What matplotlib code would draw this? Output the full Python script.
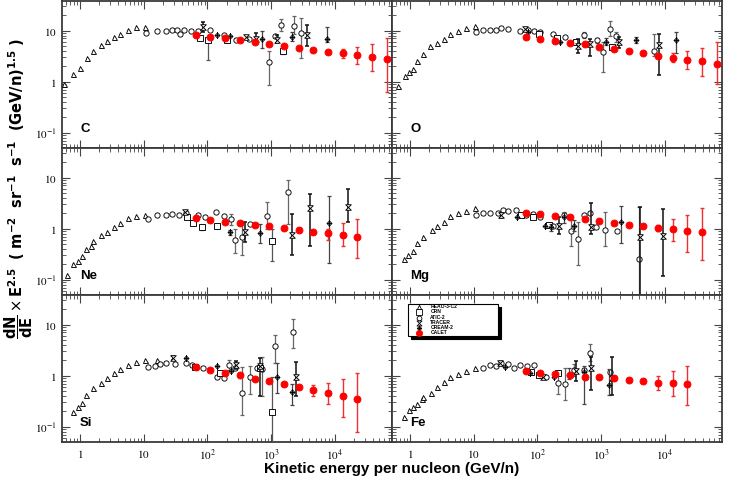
import numpy as np
import matplotlib
matplotlib.use('Agg')
import matplotlib.pyplot as plt
from matplotlib.path import Path
from matplotlib.patches import Rectangle
from matplotlib.ticker import FixedLocator, FuncFormatter, LogLocator, NullFormatter

plt.rcParams['mathtext.fontset'] = 'stix'
plt.rcParams['font.family'] = ['Liberation Sans', 'DejaVu Sans']

# ---------------- data ----------------
CALET_E = [65, 110, 188, 322, 550, 920, 1570, 2690, 4570, 7700, 13300, 22400, 37800, 65000]

# Carbon
C_HEAO_E = [0.56, 0.78, 1.0, 1.27, 1.6, 2.12, 2.67, 3.4, 4.28, 5.7, 7.6, 10.6]
C_HEAO_F = [0.89, 1.40, 1.84, 2.9, 3.98, 5.2, 6.2, 7.4, 8.6, 10.3, 12.0, 12.0]
C_CRN_E = [75, 102, 202, 1520]
C_CRN_F = [7.1, 6.65, 6.4, 3.9]
C_CRN_LO = [7.1, 2.7, 6.4, 3.5]
C_CRN_HI = [7.1, 7.5, 6.4, 4.5]
C_ATIC_E = [10.7, 15.9, 22, 28, 33, 37, 43, 55, 70, 111, 179, 281, 445, 920, 1132, 1410, 2285, 2910]
C_ATIC_F = [9.0, 10, 10, 10.2, 10.2, 8.6, 10.2, 10, 10, 10.4, 8.1, 6.65, 6.85, 2.45, 8.0, 13.1, 12.5, 9.0]
C_ATIC_LO = [9.0, 10, 10, 10.2, 10.2, 8.6, 10.2, 10, 10, 10.4, 8.1, 6.65, 6.85, 0.86, 8.0, 10, 8.6, 2.85]
C_ATIC_HI = [9.0, 10, 10, 10.2, 10.2, 8.6, 10.2, 10, 10, 10.4, 8.1, 6.65, 6.85, 3.9, 8.0, 17, 18.9, 17.4]
C_TRACER_E = [86, 398, 588, 1217, 3720]
C_TRACER_F = [11.6, 7.4, 6.85, 6.65, 8.2]
C_TRACER_LO = [9.5, 7.4, 5.47, 5.6, 5.07]
C_TRACER_HI = [14.5, 7.4, 8.85, 8.2, 12.9]
C_CREAM_E = [141, 229, 723, 2153, 7420]
C_CREAM_F = [8.2, 8.0, 6.85, 7.4, 6.96]
C_CREAM_LO = [8.2, 8.0, 4.49, 6.36, 5.9]
C_CREAM_HI = [8.2, 8.0, 9.7, 9.27, 11.6]
C_CALET_F = [8.3, 7.6, 7.2, 6.6, 6.0, 5.5, 5.07, 4.6, 4.2, 3.86, 3.57, 3.33, 3.07, 2.81]
C_CALET_LO = [8.0, 7.3, 6.9, 6.3, 5.7, 5.2, 4.75, 4.3, 3.9, 3.6, 2.9, 2.2, 1.63, 0.63]
C_CALET_HI = [8.6, 7.9, 7.5, 6.9, 6.3, 5.8, 5.4, 4.9, 4.5, 4.1, 4.37, 4.7, 5.5, 7.2]

# Oxygen
O_HEAO_E = [0.64, 0.84, 0.96, 1.13, 1.27, 1.61, 2.08, 2.67, 3.36, 4.27, 5.6, 7.5, 10.5]
O_HEAO_F = [0.83, 1.3, 1.56, 1.76, 2.56, 3.47, 4.9, 5.6, 6.9, 8.6, 9.7, 11.3, 12.2]
O_CRN_E = [107, 203, 400, 1500]
O_CRN_F = [8.6, 7.2, 5.9, 4.7]
O_CRN_LO = [8.6, 7.2, 5.9, 4.2]
O_CRN_HI = [8.6, 7.2, 5.9, 5.3]
O_ATIC_E = [11, 14, 17.8, 22.6, 27, 34, 54, 71, 88, 109, 174, 271, 542, 855, 1087, 1365, 1700, 6700]
O_ATIC_F = [9.3, 10.3, 10.3, 10.3, 11.3, 10.8, 10, 10.3, 10, 9.3, 8.6, 7.6, 8.2, 6.4, 3.86, 10.8, 8.0, 4.04]
O_ATIC_LO = [9.3, 10.3, 10.3, 10.3, 11.3, 10.8, 10, 10.3, 10, 9.3, 8.6, 7.6, 7.0, 5.6, 1.56, 8.0, 6.0, 3.2]
O_ATIC_HI = [9.3, 10.3, 10.3, 10.3, 11.3, 10.8, 10, 10.3, 10, 9.3, 8.6, 7.6, 9.5, 7.2, 6.1, 15.2, 9.5, 8.6]
O_TRACER_E = [62.7, 426, 676, 1930, 7960]
O_TRACER_F = [10.8, 5.1, 5.5, 5.9, 5.2]
O_TRACER_LO = [10.8, 3.64, 3.2, 4.6, 1.36]
O_TRACER_HI = [10.8, 6.9, 6.9, 7.5, 8.6]
O_CREAM_E = [71, 226, 1180, 3480, 15000]
O_CREAM_F = [9.3, 5.9, 6.1, 6.6, 6.4]
O_CREAM_LO = [9.3, 5.9, 5.2, 5.8, 3.64]
O_CREAM_HI = [9.3, 5.9, 7.2, 7.4, 9.3]
O_CALET_F = [7.6, 6.96, 6.36, 5.8, 5.38, 4.78, 4.37, 3.98, 3.64, 3.22, 2.94, 2.69, 2.49, 2.21]
O_CALET_LO = [7.3, 6.7, 6.1, 5.55, 5.1, 4.55, 4.15, 3.75, 3.4, 2.95, 2.38, 1.76, 1.3, 0.89]
O_CALET_HI = [7.9, 7.25, 6.6, 6.05, 5.65, 5.0, 4.6, 4.2, 3.9, 3.5, 3.64, 4.04, 4.56, 5.9]

# Neon
Ne_HEAO_E = [0.62, 0.78, 0.92, 1.06, 1.24, 1.49, 1.58, 2.12, 2.67, 3.4, 4.28, 5.7, 7.6, 10.6]
Ne_HEAO_F = [0.126, 0.2, 0.23, 0.29, 0.39, 0.46, 0.56, 0.75, 0.87, 1.06, 1.3, 1.6, 1.76, 1.87]
Ne_CRN_E = [47, 60, 82, 141, 1015]
Ne_CRN_F = [1.68, 1.3, 1.06, 1.1, 0.57]
Ne_CRN_LO = [1.68, 1.3, 0.95, 1.1, 0.23]
Ne_CRN_HI = [1.68, 1.3, 1.15, 1.1, 0.99]
Ne_ATIC_E = [11.7, 15.9, 22, 28, 36, 46, 70, 92, 136, 180, 234, 274, 349, 462, 868, 1845]
Ne_ATIC_F = [1.56, 1.81, 1.87, 1.9, 1.87, 1.99, 1.87, 1.68, 2.11, 1.73, 1.51, 0.60, 0.67, 1.24, 1.76, 5.13]
Ne_ATIC_LO = [1.56, 1.81, 1.87, 1.9, 1.87, 1.99, 1.87, 1.68, 2.11, 1.73, 1.2, 0.33, 0.30, 1.24, 0.99, 1.24]
Ne_ATIC_HI = [1.56, 1.81, 1.87, 1.9, 1.87, 1.99, 1.87, 1.68, 2.11, 1.73, 1.9, 0.99, 1.3, 1.24, 3.3, 9.0]
Ne_TRACER_E = [44, 394, 2153, 4087, 15900]
Ne_TRACER_F = [2.11, 0.87, 0.75, 2.49, 2.65]
Ne_TRACER_LO = [2.11, 0.54, 0.31, 0.46, 1.34]
Ne_TRACER_HI = [2.11, 1.34, 1.9, 4.81, 5.96]
Ne_CREAM_E = [229, 680, 7980]
Ne_CREAM_F = [0.84, 0.82, 1.3]
Ne_CREAM_LO = [0.75, 0.53, 0.21]
Ne_CREAM_HI = [0.95, 1.24, 4.28]
Ne_CALET_F = [1.6, 1.46, 1.33, 1.26, 1.18, 1.1, 1.01, 0.94, 0.87, 0.82, 0.76, 0.70]
Ne_CALET_LO = [1.53, 1.4, 1.27, 1.2, 1.12, 1.04, 0.95, 0.87, 0.8, 0.6, 0.46, 0.27]
Ne_CALET_HI = [1.67, 1.52, 1.39, 1.32, 1.24, 1.16, 1.07, 1.01, 0.95, 0.98, 1.3, 1.56]

# Magnesium
Mg_HEAO_E = [0.81, 0.94, 1.13, 1.27, 1.61, 2.18, 2.67, 3.36, 4.27, 5.6, 7.5, 10.5]
Mg_HEAO_F = [0.25, 0.31, 0.37, 0.53, 0.70, 0.955, 1.15, 1.33, 1.73, 2.01, 2.18, 2.54]
Mg_CRN_E = [56, 85, 150]
Mg_CRN_F = [1.81, 1.7, 1.2]
Mg_CRN_LO = [1.81, 1.7, 1.2]
Mg_CRN_HI = [1.81, 1.7, 1.2]
Mg_ATIC_E = [11, 14, 17.8, 24, 28.7, 34, 46, 67, 85, 110, 174, 264, 336, 436, 542, 673, 826, 1156, 1760, 3930]
Mg_ATIC_F = [1.87, 2.05, 2.02, 2.05, 2.28, 2.21, 2.28, 1.81, 1.96, 1.68, 1.15, 1.81, 0.91, 0.64, 1.81, 2.02, 1.06, 0.955, 0.91, 0.25]
Mg_ATIC_LO = [1.87, 2.05, 2.02, 2.05, 2.28, 2.21, 2.28, 1.81, 1.96, 1.68, 1.15, 1.81, 0.46, 0.19, 1.81, 2.02, 1.06, 0.46, 0.91, 0.03]
Mg_ATIC_HI = [1.87, 2.05, 2.02, 2.05, 2.28, 2.21, 2.28, 1.81, 1.96, 1.68, 1.15, 1.81, 1.51, 1.33, 1.81, 2.02, 1.06, 2.11, 0.91, 2.65]
Mg_TRACER_E = [26.4, 221, 690, 4070, 9420]
Mg_TRACER_F = [1.81, 1.1, 1.06, 0.67, 0.73]
Mg_TRACER_LO = [1.6, 0.785, 0.785, 0.03, 0.12]
Mg_TRACER_HI = [2.0, 1.68, 3.24, 2.65, 2.39]
Mg_CREAM_E = [48, 129, 164, 264, 379, 2030]
Mg_CREAM_F = [1.68, 1.15, 1.06, 1.68, 1.15, 1.33]
Mg_CREAM_LO = [1.68, 1.15, 0.9, 1.3, 0.9, 0.53]
Mg_CREAM_HI = [1.68, 1.15, 1.25, 2.1, 1.5, 2.73]
Mg_CALET_F = [2.05, 1.9, 1.76, 1.66, 1.53, 1.44, 1.3, 1.2, 1.11, 1.03, 0.97, 0.88, 0.84]
Mg_CALET_LO = [1.96, 1.82, 1.68, 1.58, 1.46, 1.37, 1.23, 1.13, 1.03, 0.9, 0.58, 0.35, 0.24]
Mg_CALET_HI = [2.14, 1.98, 1.84, 1.74, 1.6, 1.51, 1.37, 1.27, 1.19, 1.2, 1.51, 1.87, 2.54]

# Silicon
Si_HEAO_E = [0.78, 0.92, 1.06, 1.24, 1.58, 2.12, 2.67, 3.4, 4.28, 5.7, 7.6, 10.6, 15.9]
Si_HEAO_F = [0.19, 0.24, 0.29, 0.41, 0.56, 0.72, 0.88, 1.1, 1.33, 1.61, 1.88, 2.03, 2.03]
Si_CRN_E = [64, 159, 680, 1015]
Si_CRN_F = [1.49, 1.14, 1.39, 0.19]
Si_CRN_LO = [1.49, 1.14, 1.39, 0.02]
Si_CRN_HI = [1.49, 1.14, 1.39, 0.92]
Si_ATIC_E = [11.7, 14.9, 17.9, 22, 30.8, 46, 57, 86, 141, 179, 215, 274, 349, 462, 604, 706, 1132, 2210]
Si_ATIC_F = [1.45, 1.54, 1.69, 1.8, 1.69, 1.74, 1.61, 1.39, 0.95, 0.88, 1.61, 1.39, 0.46, 0.92, 1.39, 1.33, 3.84, 7.16]
Si_ATIC_LO = [1.45, 1.54, 1.69, 1.8, 1.69, 1.74, 1.61, 1.39, 0.95, 0.88, 1.3, 1.39, 0.17, 0.44, 1.39, 0.39, 1.8, 3.45]
Si_ATIC_HI = [1.45, 1.54, 1.69, 1.8, 1.69, 1.74, 1.61, 1.39, 0.95, 0.88, 2.0, 1.39, 1.49, 1.54, 1.39, 2.35, 6.34, 13.1]
Si_TRACER_E = [28.4, 277, 663, 2455]
Si_TRACER_F = [2.19, 1.61, 1.54, 0.92]
Si_TRACER_LO = [2.0, 1.35, 0.39, 0.40]
Si_TRACER_HI = [2.4, 1.9, 2.25, 1.85]
Si_CREAM_E = [46, 141, 234, 1217, 2100]
Si_CREAM_F = [2.19, 1.54, 1.24, 0.95, 0.48]
Si_CREAM_LO = [2.19, 1.54, 1.24, 0.46, 0.26]
Si_CREAM_HI = [2.19, 1.54, 1.24, 1.8, 0.68]
Si_CALET_F = [1.45, 1.28, 1.14, 1.01, 0.86, 0.79, 0.67, 0.60, 0.52, 0.46, 0.39, 0.35]
Si_CALET_LO = [1.39, 1.22, 1.08, 0.96, 0.81, 0.74, 0.63, 0.55, 0.39, 0.28, 0.158, 0.077]
Si_CALET_HI = [1.51, 1.34, 1.2, 1.06, 0.91, 0.84, 0.71, 0.65, 0.65, 0.72, 0.84, 1.14]

# Iron
Fe_HEAO_E = [0.81, 0.96, 1.13, 1.27, 1.52, 1.61, 2.13, 2.67, 3.36, 4.27, 5.6, 7.5, 10.5]
Fe_HEAO_F = [0.158, 0.21, 0.24, 0.28, 0.35, 0.38, 0.46, 0.60, 0.76, 0.92, 1.07, 1.23, 1.39]
Fe_CRN_E = [80, 107, 208]
Fe_CRN_F = [1.19, 1.02, 1.14]
Fe_CRN_LO = [1.19, 1.02, 1.14]
Fe_CRN_HI = [1.19, 1.02, 1.14]
Fe_ATIC_E = [14, 17.8, 22.6, 27, 34, 42.7, 54, 69, 88, 137, 213, 271, 379, 542, 673, 1384]
Fe_ATIC_F = [1.39, 1.61, 1.54, 1.8, 1.69, 1.39, 1.61, 1.54, 1.61, 0.92, 0.72, 0.70, 1.28, 1.28, 2.83, 1.19]
Fe_ATIC_LO = [1.39, 1.61, 1.54, 1.8, 1.69, 1.39, 1.61, 1.54, 1.61, 0.92, 0.44, 0.34, 1.0, 1.28, 1.9, 1.19]
Fe_ATIC_HI = [1.39, 1.61, 1.54, 1.8, 1.69, 1.39, 1.61, 1.54, 1.61, 0.92, 1.1, 1.39, 1.69, 1.28, 4.15, 1.19]
Fe_TRACER_E = [25.5, 121, 402, 690, 1470]
Fe_TRACER_F = [1.8, 0.92, 1.24, 1.39, 0.88]
Fe_TRACER_LO = [1.8, 0.92, 0.78, 0.52, 0.41]
Fe_TRACER_HI = [1.8, 0.92, 1.94, 2.35, 2.35]
Fe_CREAM_E = [30.5, 75, 184, 316, 529, 1334]
Fe_CREAM_F = [1.45, 1.1, 0.92, 1.02, 1.19, 0.65]
Fe_CREAM_LO = [1.45, 1.1, 0.92, 0.85, 0.28, 0.41]
Fe_CREAM_HI = [1.45, 1.1, 0.92, 1.39, 1.54, 1.35]
Fe_CALET_F = [1.23, 1.14, 1.07, 1.01, 0.95, 0.92, 0.88, 0.83, 0.78, 0.73, 0.71, 0.67]
Fe_CALET_LO = [1.18, 1.09, 1.02, 0.96, 0.9, 0.87, 0.83, 0.78, 0.72, 0.52, 0.39, 0.26]
Fe_CALET_HI = [1.28, 1.19, 1.12, 1.06, 1.0, 0.97, 0.93, 0.88, 0.85, 0.98, 1.23, 1.54]

ELEMENTS = ['C', 'O', 'Ne', 'Mg', 'Si', 'Fe']
LEGEND_LABELS = ['HEAO-3-C2', 'CRN', 'ATIC-2', 'TRACER', 'CREAM-2', 'CALET']
X_TICKS = [1, 10, 100, 1000, 10000]
X_TICKLABELS = ['$1$', '$10$', '$10^{2}$', '$10^{3}$', '$10^{4}$']
Y_TICKS = [0.1, 1, 10]
Y_TICKLABELS = ['$10^{-1}$', '$1$', '$10$']

# ---------------- markers ----------------
HOURGLASS = Path([(-1, 1), (1, 1), (-1, -1), (1, -1), (-1, 1)],
                 [Path.MOVETO, Path.LINETO, Path.LINETO, Path.LINETO, Path.CLOSEPOLY])
CREAMMK = Path([(0, 1), (1, 0), (0, -1), (-1, 0), (0, 1), (-1, 0), (1, 0), (0, -1.4), (0, 1.4)],
               [Path.MOVETO, Path.LINETO, Path.LINETO, Path.LINETO, Path.CLOSEPOLY,
                Path.MOVETO, Path.LINETO, Path.MOVETO, Path.LINETO])

STYLES = {
    'HEAO':   dict(marker='^', ms=3.6, mfc='white', mec='black', ecolor='#555555', elw=0.8),
    'CRN':    dict(marker='s', ms=5.0, mfc='white', mec='black', ecolor='#555555', elw=0.9),
    'ATIC':   dict(marker='o', ms=3.8, mfc='white', mec='black', ecolor='#666666', elw=0.9),
    'TRACER': dict(marker=HOURGLASS, ms=4.0, mfc='white', mec='black', ecolor='#111111', elw=1.1),
    'CREAM':  dict(marker=CREAMMK, ms=5.0, mfc='white', mec='black', ecolor='#444444', elw=0.9),
    'CALET':  dict(marker='o', ms=5.0, mfc='#ff0000', mec='#ff0000', ecolor='#f03030', elw=1.0),
}

g = globals()


def plot_exp(ax, E, F, LO, HI, key, z):
    st = STYLES[key]
    E = np.asarray(E, float)
    F = np.asarray(F, float)
    LO = np.asarray(LO, float)
    HI = np.asarray(HI, float)
    m = HI > LO
    if m.any():
        ax.errorbar(E[m], F[m], yerr=[F[m] - LO[m], HI[m] - F[m]], fmt='none',
                    ecolor=st['ecolor'], elinewidth=st['elw'], capsize=1.6,
                    capthick=st['elw'], zorder=z)
    ax.plot(E, F, ls='none', marker=st['marker'], ms=st['ms'], mfc=st['mfc'],
            mec=st['mec'], mew=0.65, zorder=z + 0.5)


fig, axes = plt.subplots(3, 2, figsize=(7.47, 4.82), dpi=100, sharex=True, sharey=True)
fig.subplots_adjust(left=62 / 747, right=722 / 747, top=1 - 1 / 482, bottom=1 - 442 / 482,
                    wspace=0, hspace=0)

for ax, el in zip(axes.flat, ELEMENTS):
    ax.set_xscale('log')
    ax.set_yscale('log')
    plot_exp(ax, g[el + '_HEAO_E'], g[el + '_HEAO_F'], g[el + '_HEAO_F'], g[el + '_HEAO_F'], 'HEAO', 3)
    plot_exp(ax, g[el + '_ATIC_E'], g[el + '_ATIC_F'], g[el + '_ATIC_LO'], g[el + '_ATIC_HI'], 'ATIC', 3)
    plot_exp(ax, g[el + '_CRN_E'], g[el + '_CRN_F'], g[el + '_CRN_LO'], g[el + '_CRN_HI'], 'CRN', 3)
    plot_exp(ax, g[el + '_CREAM_E'], g[el + '_CREAM_F'], g[el + '_CREAM_LO'], g[el + '_CREAM_HI'], 'CREAM', 4)
    plot_exp(ax, g[el + '_TRACER_E'], g[el + '_TRACER_F'], g[el + '_TRACER_LO'], g[el + '_TRACER_HI'], 'TRACER', 4)
    cf = g[el + '_CALET_F']
    plot_exp(ax, CALET_E[:len(cf)], cf, g[el + '_CALET_LO'], g[el + '_CALET_HI'], 'CALET', 6)

    ax.set_xlim(0.52, 7.9e4)
    ax.set_ylim(0.05, 38)
    ax.xaxis.set_major_locator(FixedLocator(X_TICKS))
    ax.xaxis.set_major_formatter(FuncFormatter(lambda v, p: X_TICKLABELS[X_TICKS.index(round(v))] if round(v) in X_TICKS else ''))
    ax.xaxis.set_minor_locator(LogLocator(base=10, subs=np.arange(2, 10), numticks=20))
    ax.xaxis.set_minor_formatter(NullFormatter())
    ax.yaxis.set_major_locator(FixedLocator(Y_TICKS))
    ax.yaxis.set_major_formatter(FuncFormatter(
        lambda v, p: Y_TICKLABELS[int(np.argmin([abs(np.log10(v) - np.log10(t)) for t in Y_TICKS]))]))
    ax.yaxis.set_minor_locator(LogLocator(base=10, subs=np.arange(2, 10), numticks=20))
    ax.yaxis.set_minor_formatter(NullFormatter())
    ax.tick_params(which='both', direction='in', top=True, right=True, color='#444444',
                   labelsize=8, pad=4)
    ax.tick_params(which='major', length=5.5, width=0.8)
    ax.tick_params(which='minor', length=2.8, width=0.6)
    for sp in ax.spines.values():
        sp.set_color('#3a3a3a')
        sp.set_linewidth(1.3)
    ax.text(0.055, 0.13, el, transform=ax.transAxes, ha='left', va='center',
            fontsize=9.5, fontweight='bold', family='Liberation Sans')

# Legend drawn in the Fe panel
axL = axes[2, 1]
x0, x1, ytop, ybot = 0.0486, 0.322, 0.94, 0.718
axL.add_patch(Rectangle((x0 + 0.009, ybot - 0.02), x1 - x0, ytop - ybot, transform=axL.transAxes,
                        facecolor='black', edgecolor='black', lw=0.8, zorder=9))
axL.add_patch(Rectangle((x0, ybot), x1 - x0, ytop - ybot, transform=axL.transAxes,
                        facecolor='white', edgecolor='black', lw=0.8, zorder=10))
keys = ['HEAO', 'CRN', 'ATIC', 'TRACER', 'CREAM', 'CALET']
rows = [305, 310, 316, 321, 326, 331.3]
for key, lab, r in zip(keys, LEGEND_LABELS, rows):
    yy = (442 - r) / 149
    st = STYLES[key]
    axL.plot([0.083], [yy], transform=axL.transAxes, ls='none', marker=st['marker'],
             ms=st['ms'] * 0.9, mfc=st['mfc'], mec=st['mec'], mew=0.6, zorder=11, clip_on=False)
    axL.text(0.116, yy, lab, transform=axL.transAxes, ha='left', va='center',
             fontsize=3.6, fontweight='bold', zorder=11)

fig.text(392 / 747, 1 - 469 / 482, 'Kinetic energy per nucleon (GeV/n)', ha='center', va='center',
         fontsize=11, fontweight='bold', family='Liberation Sans')
fig.text(19 / 747, 1 - 188 / 482,
         r'$\mathbf{\dfrac{dN}{dE}}\times\mathbf{E^{2.5}}$  $\mathbf{(\ m^{-2}\ \ sr^{-1}\ \ s^{-1}\ \ (GeV/n)^{1.5}\ )}$',
         rotation=90, ha='center', va='center', fontsize=10.5, fontweight='bold',
         math_fontfamily='dejavusans')

fig.savefig('out.png', dpi=100)
